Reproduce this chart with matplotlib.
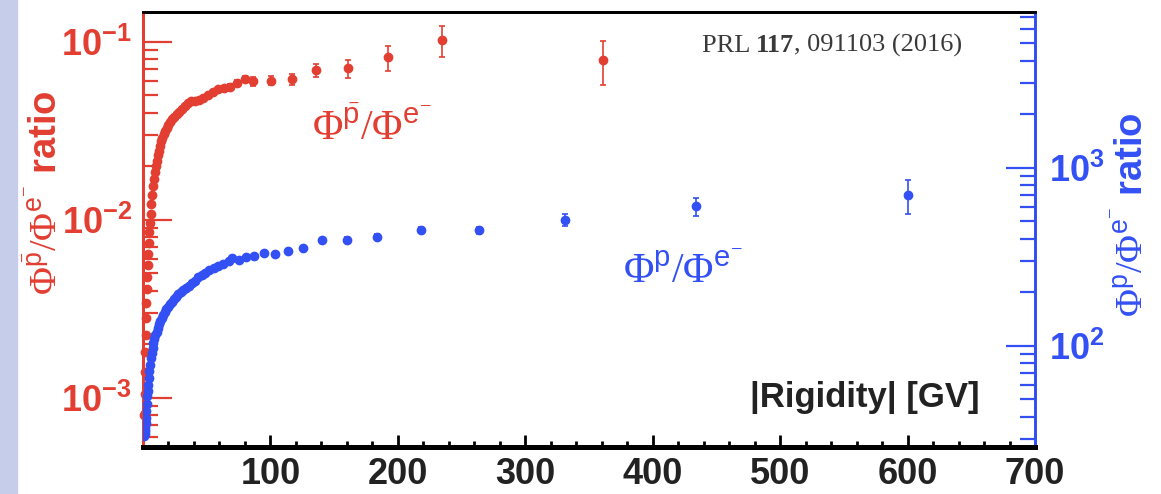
"""
AMS pbar/e- and p/e- flux ratios vs |Rigidity|, twin log axes
"""

import matplotlib
matplotlib.use("Agg")
import matplotlib.pyplot as plt
from matplotlib.patches import Rectangle
from matplotlib.ticker import MultipleLocator, LogLocator, NullFormatter

# antiproton / electron ratio (left axis)
pbar_rig = [1.09, 1.32, 1.57, 1.84, 2.12, 2.42, 2.74, 3.08, 3.44, 3.82,
            4.22, 4.65, 5.10, 5.58, 6.10, 6.65, 7.22, 7.82, 8.46, 9.14,
            9.84, 10.6, 11.4, 12.2, 13.1, 14.1, 15.1, 16.2, 17.3, 18.6,
            20.0, 21.5, 23.0, 24.6, 26.4, 28.3, 30.4, 32.7, 35.2, 37.9,
            40.8, 43.9, 47.2, 50.8, 54.7, 58.9, 63.5, 68.6, 74.1, 80.1,
            86.7, 100.2, 116.7, 136.0, 160.8, 192.4, 234.7, 361.0]
pbar_ratio = [0.00080, 0.00105, 0.00140, 0.00180, 0.00225, 0.00280, 0.00340,
              0.00410, 0.00480, 0.00560, 0.00640, 0.00740, 0.00850, 0.00960,
              0.01080, 0.01220, 0.01380, 0.01540, 0.01700, 0.01850, 0.02000,
              0.02150, 0.02300, 0.02450, 0.02600, 0.02760, 0.02900, 0.03030,
              0.03150, 0.03300, 0.03420, 0.03550, 0.03680, 0.03800, 0.03920,
              0.04050, 0.04200, 0.04380, 0.04550, 0.04650, 0.04680, 0.04720,
              0.04850, 0.05000, 0.05200, 0.05450, 0.05480, 0.05600, 0.05900,
              0.06200, 0.0601, 0.0604, 0.0617, 0.0693, 0.0709, 0.0817,
              0.102, 0.079]
pbar_err = [0.00003, 0.00004, 0.00005, 0.00006, 0.00007, 0.00008, 0.0001,
            0.00012, 0.00014, 0.00016, 0.00018, 0.0002, 0.00023, 0.00026,
            0.0003, 0.00033, 0.00037, 0.0004, 0.00044, 0.00048, 0.0005,
            0.0005, 0.0005, 0.0006, 0.0006, 0.0006, 0.0007, 0.0007, 0.0007,
            0.0008, 0.0008, 0.0008, 0.0009, 0.0009, 0.0009, 0.001, 0.001,
            0.001, 0.0011, 0.0011, 0.0012, 0.0012, 0.0013, 0.0013, 0.0014,
            0.0015, 0.0016, 0.0017, 0.0018, 0.002,
            0.0035, 0.0035, 0.0045, 0.0055, 0.0085, 0.013, 0.020, 0.022]

# proton / electron ratio (right axis)
p_rig = [1.0, 1.2, 1.4, 1.6, 1.8, 2.0, 2.3, 2.6, 2.9, 3.3, 3.7, 4.1, 4.6,
         5.1, 5.6, 6.2, 6.8, 7.5, 8.2, 9.0, 9.8, 10.6, 11.5, 12.5, 13.5,
         14.6, 15.7, 16.9, 18.2, 19.5, 21.0, 22.5, 24.1, 25.8, 27.6, 29.5,
         31.5, 33.6, 35.8, 38.1, 40.6, 43.3, 46.1, 49.0, 52.1, 55.4, 59.0,
         63.0, 67.5, 70.2, 75.0, 80.7, 87.2, 95.0, 103.4, 113.8, 125.8,
         140.7, 160.3, 183.7, 218.2, 263.3, 331.0, 434.0, 600.0]
p_ratio = [31, 32, 33, 34, 35.5, 37, 39.5, 43, 47, 52, 56, 60, 66, 72, 78,
           85, 91, 97, 103, 109, 115, 120, 126, 132, 137, 143, 149, 154, 160,
           165, 171, 176, 182, 188, 195, 201, 207, 212, 218, 225, 232, 242,
           251, 258, 266, 274, 281, 288, 298, 310, 303, 316, 319, 330, 327,
           342, 352, 393, 393, 410, 447, 447, 508, 608, 703]
p_err = [0.3, 0.3, 0.3, 0.3, 0.4, 0.4, 0.4, 0.4, 0.5, 0.5, 0.6, 0.6, 0.7,
         0.7, 0.8, 0.9, 0.9, 1.0, 1.0, 1.1, 1.2, 1.2, 1.3, 1.3, 1.4, 1.4,
         1.5, 1.6, 1.6, 1.7, 1.8, 1.9, 2.0, 2.1, 2.2, 2.3, 2.4, 2.5, 2.7,
         2.8, 3.0, 3.2, 3.4, 3.6, 3.9, 4.2, 4.5, 4.8, 5.2, 5.6, 6.0, 6.5,
         7.0, 7.5, 8, 9, 10, 12, 13, 15, 15, 20, 40, 70, 150]

RED = "#e23e32"
BLUE = "#3350f5"
DARK = "#222222"

plt.rcParams["font.family"] = "Liberation Sans"
plt.rcParams["mathtext.fontset"] = "custom"
plt.rcParams["mathtext.rm"] = "Liberation Serif"
plt.rcParams["mathtext.sf"] = "Liberation Sans"
plt.rcParams["mathtext.bf"] = "Liberation Sans:bold"

fig = plt.figure(figsize=(11.61, 4.94), dpi=100)
fig.patches.append(Rectangle((0, 0), 17 / 1161, 1, transform=fig.transFigure,
                             color="#c6cdea", zorder=0))

ax = fig.add_axes([143 / 1161, 47 / 494, 892 / 1161, 435 / 494])
ax2 = ax.twinx()

ax.errorbar(pbar_rig, pbar_ratio, yerr=pbar_err, fmt="o", ms=6, color=RED,
            elinewidth=1.2, capsize=2.5, capthick=1.2, clip_on=False, zorder=3)
ax2.errorbar(p_rig, p_ratio, yerr=p_err, fmt="o", ms=6, color=BLUE,
             elinewidth=1.2, capsize=2.5, capthick=1.2, zorder=3)

ax.set_xlim(0, 700)
ax.set_yscale("log")
ax.set_ylim(5.3e-4, 0.147)
ax2.set_yscale("log")
ax2.set_ylim(27, 7500)

# x axis
ax.set_xticks(range(100, 701, 100))
ax.xaxis.set_minor_locator(MultipleLocator(20))
ax.tick_params(axis="x", which="major", direction="in", length=9, width=2,
               color="black", labelsize=26, labelcolor=DARK, pad=7, top=False)
ax.tick_params(axis="x", which="minor", direction="in", length=4, width=2,
               color="black", top=False)
for lab in ax.get_xticklabels():
    lab.set_fontweight("bold")

# left axis (red)
ax.set_yticks([1e-3, 1e-2, 1e-1],
              labels=[r"$\mathbf{10^{-3}}$", r"$\mathbf{10^{-2}}$", r"$\mathbf{10^{-1}}$"])
ax.yaxis.set_minor_locator(LogLocator(base=10, subs=range(2, 10)))
ax.yaxis.set_minor_formatter(NullFormatter())
ax.tick_params(axis="y", which="major", direction="in", length=21, width=1.6,
               color=RED, labelcolor=RED, labelsize=26, pad=8)
ax.tick_params(axis="y", which="minor", direction="in", length=11, width=1.6,
               color=RED)

# right axis (blue)
ax2.set_yticks([1e2, 1e3], labels=[r"$\mathbf{10^{2}}$", r"$\mathbf{10^{3}}$"])
ax2.yaxis.set_minor_locator(LogLocator(base=10, subs=range(2, 10)))
ax2.yaxis.set_minor_formatter(NullFormatter())
ax2.tick_params(axis="y", which="major", direction="in", length=21, width=1.6,
                color=BLUE, labelcolor=BLUE, labelsize=26, pad=10)
ax2.tick_params(axis="y", which="minor", direction="in", length=11, width=1.6,
                color=BLUE)

for a in (ax, ax2):
    a.spines["top"].set_linewidth(2)
    a.spines["bottom"].set_linewidth(3.5)
    a.spines["left"].set_color(RED)
    a.spines["left"].set_linewidth(2)
    a.spines["right"].set_color(BLUE)
    a.spines["right"].set_linewidth(2)

# axis titles
fig.text(46 / 1161, 1 - 193 / 494,
         r"$\Phi^{\bar{\mathsf{p}}}/\Phi^{\mathsf{e}^{-}}$ ratio",
         rotation=90, ha="center", va="center", color=RED, fontsize=27.5,
         fontweight="bold")
fig.text(1134 / 1161, 1 - 215 / 494,
         r"$\Phi^{\mathsf{p}}/\Phi^{\mathsf{e}^{-}}$ ratio",
         rotation=90, ha="center", va="center", color=BLUE, fontsize=27.5,
         fontweight="bold")
ax.text(0.938, 0.092, "|Rigidity| [GV]", transform=ax.transAxes, ha="right",
        va="baseline", fontsize=25, fontweight="bold", color=DARK)

# series labels
ax.text(0.1895, 0.706, r"$\Phi^{\bar{\mathsf{p}}}/\Phi^{\mathsf{e}^{-}}$",
        transform=ax.transAxes, ha="left", va="baseline", fontsize=30,
        color=RED, zorder=5)
ax2.text(0.538, 0.377, r"$\Phi^{\mathsf{p}}/\Phi^{\mathsf{e}^{-}}$",
         transform=ax2.transAxes, ha="left", va="baseline", fontsize=30,
         color=BLUE, zorder=5)

# journal reference
t1 = ax2.text(0.627, 0.908, "PRL ", transform=ax2.transAxes, ha="left",
              va="baseline", fontsize=19, family="Liberation Serif",
              color="#3a3a3a")
t2 = ax2.annotate("117", xy=(1, 0), xycoords=t1, ha="left", va="bottom",
                  fontsize=19, family="Liberation Serif", fontweight="bold",
                  color="#3a3a3a")
ax2.annotate(", 091103 (2016)", xy=(1, 0), xycoords=t2, ha="left",
             va="bottom", fontsize=19, family="Liberation Serif",
             color="#3a3a3a")

plt.savefig("out.png", dpi=100)
